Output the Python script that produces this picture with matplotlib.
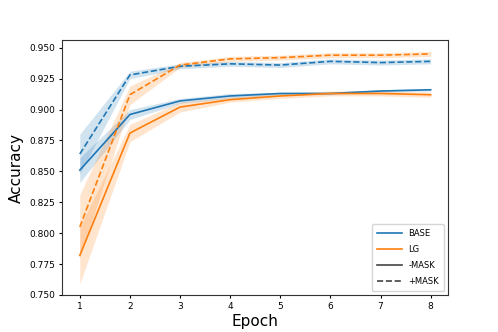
import numpy as np
from matplotlib import pyplot as plt
from matplotlib.lines import Line2D

epochs = [1, 2, 3, 4, 5, 6, 7, 8]

base_nomask = [0.851, 0.896, 0.907, 0.911, 0.913, 0.913, 0.915, 0.916]
base_nomask_lo = [0.841, 0.892, 0.905, 0.909, 0.912, 0.912, 0.914, 0.915]
base_nomask_hi = [0.861, 0.900, 0.909, 0.913, 0.914, 0.914, 0.916, 0.917]

base_mask = [0.864, 0.928, 0.935, 0.937, 0.936, 0.939, 0.938, 0.939]
base_mask_lo = [0.848, 0.925, 0.933, 0.935, 0.934, 0.937, 0.936, 0.937]
base_mask_hi = [0.880, 0.931, 0.937, 0.939, 0.938, 0.941, 0.940, 0.941]

lg_nomask = [0.782, 0.881, 0.902, 0.908, 0.911, 0.913, 0.913, 0.912]
lg_nomask_lo = [0.759, 0.874, 0.898, 0.906, 0.909, 0.911, 0.911, 0.910]
lg_nomask_hi = [0.805, 0.888, 0.906, 0.910, 0.913, 0.915, 0.915, 0.914]

lg_mask = [0.805, 0.912, 0.936, 0.941, 0.942, 0.944, 0.944, 0.945]
lg_mask_lo = [0.780, 0.904, 0.934, 0.939, 0.940, 0.942, 0.942, 0.943]
lg_mask_hi = [0.831, 0.919, 0.938, 0.943, 0.944, 0.946, 0.946, 0.947]

blue = "#1f77b4"
orange = "#ff7f0e"

fig, ax = plt.subplots(figsize=(4.98, 3.32), dpi=100)

series = [
    (base_nomask, base_nomask_lo, base_nomask_hi, blue, "-"),
    (base_mask, base_mask_lo, base_mask_hi, blue, "--"),
    (lg_nomask, lg_nomask_lo, lg_nomask_hi, orange, "-"),
    (lg_mask, lg_mask_lo, lg_mask_hi, orange, "--"),
]
for mean, lo, hi, c, ls in series:
    ax.plot(epochs, mean, color=c, linestyle=ls, linewidth=1.2)
    ax.fill_between(epochs, lo, hi, color=c, alpha=0.2, linewidth=0)

ax.set_xlabel("Epoch", fontsize=11, labelpad=2)
ax.set_ylabel("Accuracy", fontsize=11, labelpad=4)
ax.tick_params(labelsize=6.5, length=2.5, pad=2.5)
ax.yaxis.set_major_formatter(plt.FormatStrFormatter("%.3f"))
for s in ax.spines.values():
    s.set_color("#333333")

handles = [
    Line2D([], [], color=blue, linewidth=1.2),
    Line2D([], [], color=orange, linewidth=1.2),
    Line2D([], [], color="#444444", linewidth=1.2, linestyle="-"),
    Line2D([], [], color="#444444", linewidth=1.2, linestyle="--"),
]
labels = ["BASE", "LG", "-MASK", "+MASK"]
ax.legend(handles, labels, loc="lower right", fontsize=6, labelspacing=0.85,
          handlelength=3.0, borderpad=0.6, borderaxespad=0.5)

fig.savefig("out.png", dpi=100)
